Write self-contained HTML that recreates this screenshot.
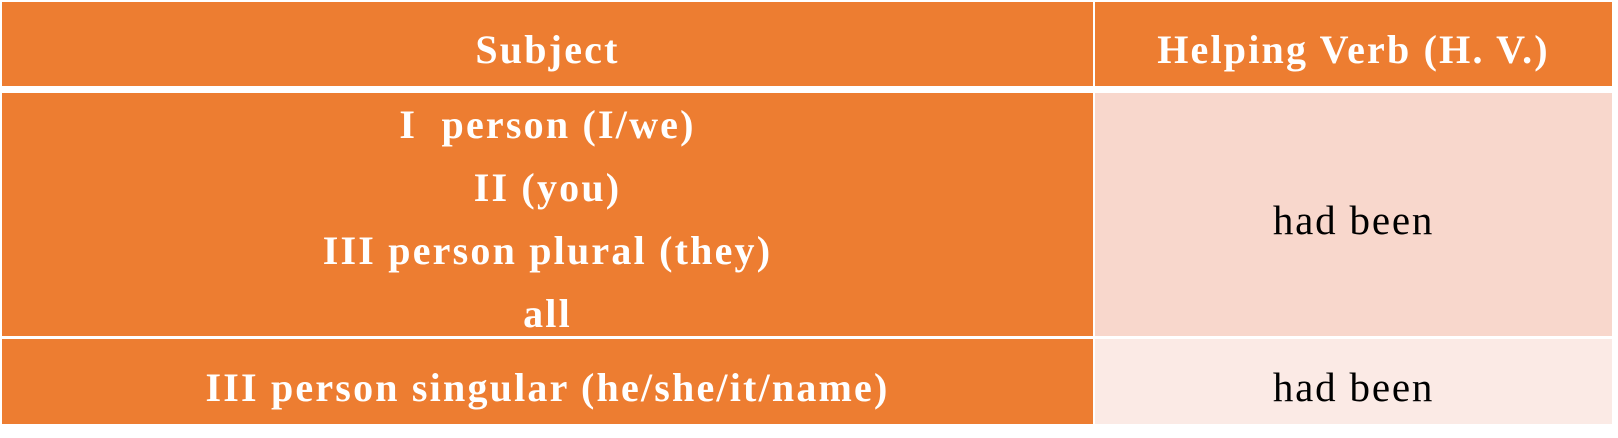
<!DOCTYPE html>
<html><head><style>
body{margin:0;width:1618px;height:438px;background:#fff;position:relative;overflow:hidden;font-family:"Liberation Serif",serif;}
.c{position:absolute;display:flex;flex-direction:column;align-items:center;justify-content:center;text-align:center;box-sizing:border-box;padding-top:11px;}
.o{background:#ED7D31;color:#fff;font-weight:bold;font-size:40px;letter-spacing:2.2px;}
.p{font-size:41px;letter-spacing:1.8px;color:#000;}
</style></head><body>
<div class="c o" style="left:2px;top:2px;width:1091px;height:84px;">Subject</div>
<div class="c o" style="left:1095px;top:2px;width:517px;height:84px;">Helping Verb (H. V.)</div>
<div class="c o" style="left:2px;top:93px;width:1091px;height:243px;line-height:63px;padding-top:8px;"><div>I&nbsp; person (I/we)</div><div>II (you)</div><div>III person plural (they)</div><div>all</div></div>
<div class="c p" style="left:1095px;top:93px;width:517px;height:243px;background:#F8D7CC;">had been</div>
<div class="c o" style="left:2px;top:339px;width:1091px;height:85px;">III person singular (he/she/it/name)</div>
<div class="c p" style="left:1095px;top:339px;width:517px;height:85px;background:#FBEAE5;">had been</div>
</body></html>
